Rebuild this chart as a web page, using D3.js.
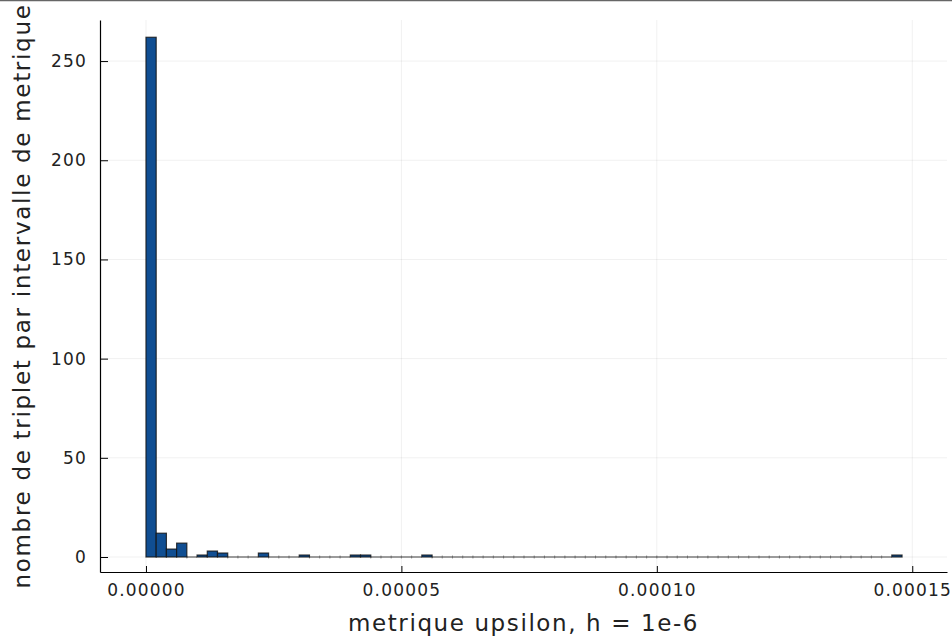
<!DOCTYPE html>
<html><head><meta charset="utf-8">
<script src="https://cdn.jsdelivr.net/npm/d3@7"></script>
<style>body{margin:0;background:#fff}svg{display:block}text{font-family:"DejaVu Sans",sans-serif}</style>
</head><body><svg id="c" width="952" height="638"></svg>
<script>
// bin width 2e-6, starting at 0
const binWidth = 2e-6;
const binCounts = [262,12,4,7,0,1,3,2,0,0,0,2,0,0,0,1,0,0,0,0,1,1,0,0,0,0,0,1,
  0,0,0,0,0,0,0,0,0,0,0,0,0,0,0,0,0,0,0,0,0,0,0,0,0,0,0,0,0,0,0,0,0,0,0,0,0,0,0,0,0,0,0,0,0,1];
const xTicks = [0, 0.00005, 0.0001, 0.00015];
const yTicks = [0, 50, 100, 150, 200, 250];
const xLabel = "metrique upsilon, h = 1e-6";
const yLabel = "nombre de triplet par intervalle de metrique";

const bins = binCounts.map((c,i)=>({x0:i*binWidth, x1:(i+1)*binWidth, n:c}));
const svg = d3.select("#c");
const L=100, R=947, T=20, B=572;
const x = d3.scaleLinear().domain([-9.0e-6, 156.8e-6]).range([L,R]);
const y = d3.scaleLinear().domain([-7.56, 270.7]).range([B,T]);

// top border
svg.append("line").attr("x1",0).attr("x2",952).attr("y1",0.5).attr("y2",0.5).attr("stroke","#666").attr("stroke-width",1.5);

// grid
svg.append("g").selectAll("line").data(xTicks).join("line")
  .attr("x1",d=>x(d)).attr("x2",d=>x(d)).attr("y1",T).attr("y2",B)
  .attr("stroke","#000").attr("stroke-opacity",0.1).attr("stroke-width",0.6);
svg.append("g").selectAll("line").data(yTicks).join("line")
  .attr("y1",d=>y(d)).attr("y2",d=>y(d)).attr("x1",L).attr("x2",R)
  .attr("stroke","#000").attr("stroke-opacity",0.1).attr("stroke-width",0.6);

// zero-height bins drawn as flat outlines
const zg = svg.append("g");
zg.selectAll("line.z").data(bins.filter(d=>d.n===0)).join("line").attr("class","z")
  .attr("x1",d=>x(d.x0)).attr("x2",d=>x(d.x1)).attr("y1",y(0)).attr("y2",y(0))
  .attr("stroke","#444").attr("stroke-opacity",0.65).attr("stroke-width",1.6);
zg.selectAll("line.e").data(bins.filter(d=>d.n===0)).join("line").attr("class","e")
  .attr("x1",d=>x(d.x0)).attr("x2",d=>x(d.x0)).attr("y1",y(0)-1.5).attr("y2",y(0)+1.5)
  .attr("stroke","#333").attr("stroke-opacity",0.5).attr("stroke-width",1);

// bars
svg.append("g").selectAll("rect").data(bins.filter(d=>d.n>0)).join("rect")
  .attr("x",d=>x(d.x0)).attr("width",d=>x(d.x1)-x(d.x0))
  .attr("y",d=>y(d.n)).attr("height",d=>y(0)-y(d.n))
  .attr("fill","#104e92").attr("stroke","#111").attr("stroke-opacity",0.8).attr("stroke-width",1.2);

// axes
const xa = svg.append("g").attr("transform",`translate(0,${B})`)
  .call(d3.axisBottom(x).tickValues(xTicks).tickFormat(d3.format(".5f")).tickSizeInner(-6).tickSizeOuter(0).tickPadding(12));
const ya = svg.append("g").attr("transform",`translate(${L},0)`)
  .call(d3.axisLeft(y).tickValues(yTicks).tickSizeInner(-8).tickSizeOuter(0).tickPadding(13));
[xa,ya].forEach(a=>{
  a.select(".domain").attr("stroke","#000").attr("stroke-width",1.2);
  a.selectAll(".tick line").attr("stroke","#000").attr("stroke-width",1);
  a.selectAll(".tick text").attr("font-size",17).attr("letter-spacing","1.2px").attr("fill","#222").attr("font-family","DejaVu Sans");
});
xa.selectAll(".tick text").attr("dy","0.71em");

svg.append("text").attr("x",(L+R)/2).attr("y",631).attr("text-anchor","middle")
  .attr("font-size",23).attr("letter-spacing","1.6px").attr("fill","#222").text(xLabel);
svg.append("text").attr("transform",`translate(30,${(T+B)/2}) rotate(-90)`).attr("text-anchor","middle")
  .attr("font-size",23).attr("letter-spacing","1.7px").attr("fill","#222").text(yLabel);
</script></body></html>
